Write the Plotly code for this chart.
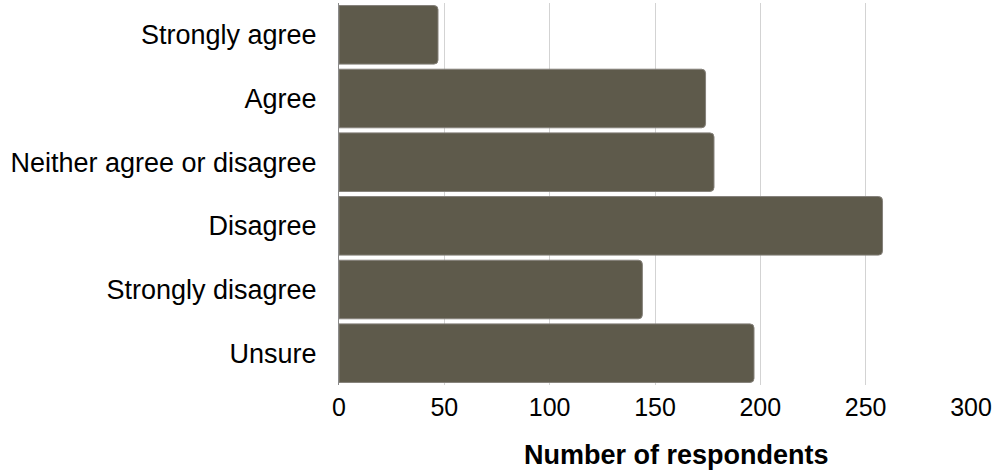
import plotly.graph_objects as go

# Survey responses
categories = [
    "Strongly agree",
    "Agree",
    "Neither agree or disagree",
    "Disagree",
    "Strongly disagree",
    "Unsure",
]
respondents = [47, 174, 178, 258, 144, 197]
x_ticks = [0, 50, 100, 150, 200, 250, 300]

BAR_COLOR = "#5e5a4b"
FONT = "Liberation Sans, Arial, sans-serif"

fig = go.Figure(
    go.Bar(
        x=respondents,
        y=categories,
        orientation="h",
        marker=dict(
            color=BAR_COLOR,
            line=dict(color="#85817a", width=1),
            cornerradius=4,
        ),
        width=0.92,
        hoverinfo="x+y",
    )
)

fig.update_layout(
    width=993,
    height=470,
    margin=dict(l=339, r=22, t=3, b=85),
    paper_bgcolor="white",
    plot_bgcolor="white",
    showlegend=False,
    font=dict(family=FONT, color="#000000", size=27),
    bargap=0.08,
)

fig.update_xaxes(
    range=[0, 300],
    tickvals=x_ticks,
    ticktext=[str(v) for v in x_ticks],
    showgrid=True,
    gridcolor="#d3d3d3",
    gridwidth=1,
    zeroline=False,
    showline=False,
    ticks="",
    ticklabelstandoff=5,
    ticklabeloverflow="allow",
    automargin=False,
    tickfont=dict(family=FONT, size=25, color="#000000"),
)

# Axis title placed as an annotation so it can sit slightly right of centre
fig.add_annotation(
    text="<b>Number of respondents</b>",
    xref="paper",
    yref="paper",
    x=0.534,
    y=0,
    yshift=-70,
    xanchor="center",
    yanchor="middle",
    showarrow=False,
    font=dict(family=FONT, size=27, color="#000000"),
)

fig.update_yaxes(
    categoryorder="array",
    categoryarray=categories,
    autorange="reversed",
    showgrid=False,
    zeroline=False,
    showline=True,
    linecolor="#8a8a8a",
    linewidth=1,
    ticks="",
    ticklabelstandoff=16,
    automargin=False,
    tickfont=dict(family=FONT, size=27, color="#000000"),
)

fig.write_html("out.html")
